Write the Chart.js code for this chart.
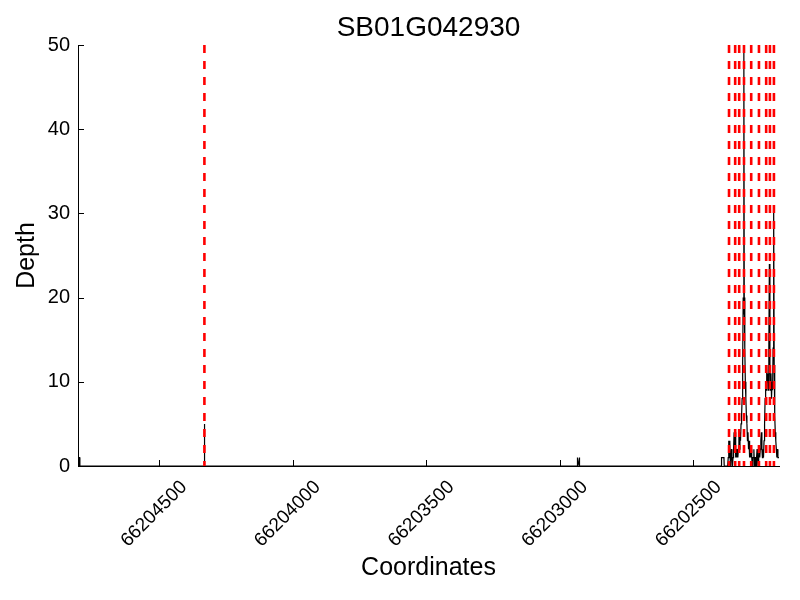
<!DOCTYPE html>
<html>
<head>
<meta charset="utf-8">
<script src="https://cdn.jsdelivr.net/npm/chart.js@4/dist/chart.umd.min.js"></script>
<style>
  html, body { margin: 0; padding: 0; background: #fff; }
</style>
</head>
<body>
<canvas id="depthChart" width="800" height="600"></canvas>
<script>
// coverage depth along the gene (coordinate, depth)
const positions = [
  66204803, 66204800, 66204797, 66204796,
  66204331, 66204330, 66204329,
  66202936, 66202935, 66202934, 66202928, 66202927, 66202926,
  66202396, 66202395, 66202386, 66202385,
  66202372, 66202370, 66202368, 66202366, 66202364, 66202362, 66202360, 66202358,
  66202356, 66202354, 66202352, 66202350, 66202348, 66202346, 66202344, 66202342,
  66202340, 66202338, 66202336, 66202334, 66202332, 66202330, 66202328, 66202326,
  66202324, 66202322, 66202320, 66202318, 66202316, 66202314, 66202312, 66202311,
  66202310, 66202308, 66202306, 66202304, 66202302, 66202300, 66202298, 66202296,
  66202294, 66202292, 66202290, 66202288, 66202286, 66202284, 66202282, 66202280,
  66202278, 66202276, 66202274, 66202272, 66202270, 66202268, 66202266, 66202264,
  66202262, 66202260, 66202258, 66202256, 66202254, 66202252, 66202250, 66202248,
  66202246, 66202244, 66202242, 66202240, 66202238, 66202236, 66202234, 66202232,
  66202230, 66202228, 66202226, 66202224, 66202222, 66202220, 66202218, 66202216,
  66202214, 66202212, 66202210, 66202208, 66202206, 66202204, 66202202, 66202200,
  66202198, 66202196, 66202194, 66202192, 66202190, 66202188, 66202186, 66202184,
  66202182, 66202180
];
const depths = [
  0, 1, 1, 0,
  0, 5, 0,
  0, 0, 1, 0, 1, 0,
  0, 1, 1, 0,
  0, 1, 3, 1, 3, 0, 1, 2,
  1, 0, 1, 2, 4, 2, 4, 1,
  2, 1, 2, 1, 2, 4, 2, 4,
  3, 5, 6, 8, 12, 20, 18, 50,
  20, 14, 10, 8, 6, 5, 3, 4,
  2, 3, 1, 2, 1, 2, 1, 0,
  1, 1, 2, 0, 1, 1, 0, 1,
  2, 1, 0, 1, 2, 1, 2, 3,
  4, 2, 1, 2, 1, 3, 5, 8,
  10, 9, 12, 10, 11, 9, 14, 24,
  12, 9, 11, 8, 10, 9, 14, 31,
  12, 6, 4, 3, 2, 1, 2, 1,
  1, 1
];
// red dashed markers
const markerPositions = [
  66204330, 66202367, 66202344, 66202329, 66202311,
  66202284, 66202255, 66202228, 66202214, 66202199
];
const xTickValues = [66204500, 66204000, 66203500, 66203000, 66202500];
const yTickValues = [0, 10, 20, 30, 40, 50];

const depthPoints = positions.map((p, i) => ({x: p, y: depths[i]}));
const markerPoints = [];
markerPositions.forEach(p => {
    markerPoints.push({x: p, y: 50}, {x: p, y: 0}, {x: p, y: null});
});

const fontFamily = '"Liberation Sans", Arial, sans-serif';

// matplotlib style ticks pointing into the plot
const innerTicks = {
    id: 'innerTicks',
    afterDraw(chart) {
        const {ctx, chartArea, scales} = chart;
        ctx.save();
        ctx.strokeStyle = '#000';
        ctx.lineWidth = 1;
        ctx.beginPath();
        xTickValues.forEach(v => {
            const px = Math.round(scales.x.getPixelForValue(v)) + 0.5;
            ctx.moveTo(px, chartArea.bottom);
            ctx.lineTo(px, chartArea.bottom - 6);
        });
        yTickValues.forEach(v => {
            const py = Math.round(scales.y.getPixelForValue(v)) + 0.5;
            ctx.moveTo(chartArea.left, py);
            ctx.lineTo(chartArea.left + 6, py);
        });
        ctx.stroke();
        ctx.restore();
    }
};

new Chart(document.getElementById('depthChart').getContext('2d'), {
    type: 'line',
    data: {
        datasets: [
            {
                label: 'markers',
                data: markerPoints,
                borderColor: 'rgb(255, 0, 0)',
                borderWidth: 2.6,
                borderDash: [8, 8],
                pointRadius: 0,
                spanGaps: false,
                order: 0
            },
            {
                label: 'depth',
                data: depthPoints,
                borderColor: '#000',
                borderWidth: 1.2,
                pointRadius: 0,
                tension: 0,
                order: 1
            }
        ]
    },
    options: {
        responsive: false,
        animation: false,
        layout: {padding: {left: 0, right: 21, top: 0, bottom: 0}},
        plugins: {
            legend: {display: false},
            tooltip: {enabled: false},
            title: {
                display: true,
                fullSize: false,
                text: 'SB01G042930',
                color: '#000',
                font: {family: fontFamily, size: 28, weight: 'normal'},
                padding: {top: 11, bottom: 0.4}
            }
        },
        scales: {
            x: {
                type: 'linear',
                reverse: true,
                min: 66202180,
                max: 66204803,
                afterBuildTicks: s => { s.ticks = xTickValues.map(v => ({value: v})); },
                afterFit: s => { s.height = 134; },
                grid: {display: false, drawTicks: false},
                border: {display: true, color: '#000', width: 1},
                ticks: {
                    color: '#000',
                    font: {family: fontFamily, size: 19},
                    minRotation: 45,
                    maxRotation: 45,
                    padding: 10,
                    labelOffset: 25,
                    autoSkip: false,
                    callback: v => String(v)
                },
                title: {
                    display: true,
                    text: 'Coordinates',
                    color: '#000',
                    font: {family: fontFamily, size: 25},
                    padding: {top: 0, bottom: 17}
                }
            },
            y: {
                min: 0,
                max: 50,
                afterBuildTicks: s => { s.ticks = yTickValues.map(v => ({value: v})); },
                afterFit: s => { s.width = 78; },
                grid: {display: false, drawTicks: false},
                border: {display: true, color: '#000', width: 1},
                ticks: {
                    color: '#000',
                    font: {family: fontFamily, size: 20},
                    padding: 8
                },
                title: {
                    display: true,
                    text: 'Depth',
                    color: '#000',
                    font: {family: fontFamily, size: 25},
                    padding: {top: 12, bottom: 0}
                }
            }
        }
    },
    plugins: [innerTicks]
});
</script>
</body>
</html>
